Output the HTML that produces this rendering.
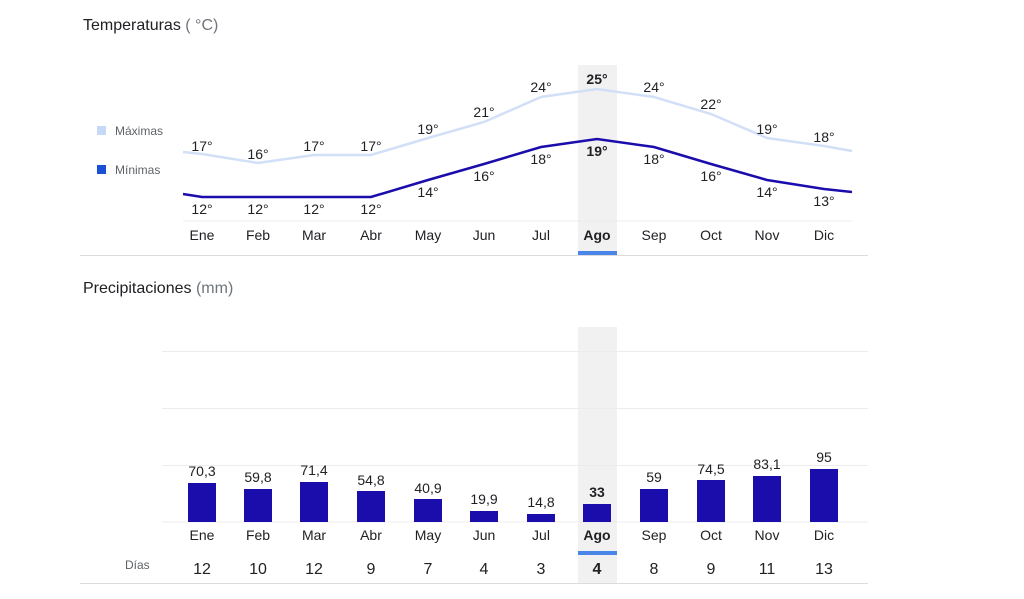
<!DOCTYPE html>
<html><head><meta charset="utf-8"><style>
body{margin:0;background:#fff;}
svg{display:block;font-family:"Liberation Sans",Arial,sans-serif;}
</style></head><body>
<svg width="1024" height="599" viewBox="0 0 1024 599">
<!-- highlight bands -->
<rect x="578" y="65" width="39" height="190" fill="#f1f1f1"/>
<rect x="578" y="327" width="39" height="257" fill="#f1f1f1"/>
<rect x="578" y="251" width="39" height="4" fill="#4a86e8"/>
<rect x="578" y="551" width="39" height="4" fill="#4a86e8"/>

<text x="83" y="30" font-size="16" fill="#202124">Temperaturas <tspan fill="#70757a">( °C)</tspan></text>
<rect x="97" y="126" width="9" height="9" fill="#c6d9f7"/>
<text x="115" y="135" font-size="12" fill="#5f6368">Máximas</text>
<rect x="97" y="165" width="9" height="9" fill="#1a4fd6"/>
<text x="115" y="174" font-size="12" fill="#5f6368">Mínimas</text>

<line x1="183" y1="221" x2="852" y2="221" stroke="#ececec"/>
<line x1="80" y1="255.5" x2="868" y2="255.5" stroke="#dadce0"/>

<polyline fill="none" stroke="#d2e0f7" stroke-width="2.5" points="183,152 202,154 258,163 314,155 371,155 428,138 484,122 541,97 597,89 654,97 711,114 767,138 824,146 852,151"/>
<polyline fill="none" stroke="#1a0dab" stroke-width="2.5" points="183,194 202,197 258,197 314,197 371,197 428,180 484,164 541,147 597,139 654,147 711,164 767,180 824,189 852,192"/>

<g font-size="14" fill="#202124" text-anchor="middle">
<text x="202" y="151">17°</text><text x="258" y="159">16°</text><text x="314" y="151">17°</text><text x="371" y="151">17°</text><text x="428" y="134">19°</text><text x="484" y="117">21°</text><text x="541" y="92">24°</text><text x="597" y="84" font-weight="bold">25°</text><text x="654" y="92">24°</text><text x="711" y="109">22°</text><text x="767" y="134">19°</text><text x="824" y="142">18°</text>
<text x="202" y="214">12°</text><text x="258" y="214">12°</text><text x="314" y="214">12°</text><text x="371" y="214">12°</text><text x="428" y="197">14°</text><text x="484" y="181">16°</text><text x="541" y="164">18°</text><text x="597" y="156" font-weight="bold">19°</text><text x="654" y="164">18°</text><text x="711" y="181">16°</text><text x="767" y="197">14°</text><text x="824" y="206">13°</text>
</g>
<g font-size="14" fill="#202124" text-anchor="middle">
<text x="202" y="240">Ene</text><text x="258" y="240">Feb</text><text x="314" y="240">Mar</text><text x="371" y="240">Abr</text><text x="428" y="240">May</text><text x="484" y="240">Jun</text><text x="541" y="240">Jul</text><text x="597" y="240" font-weight="bold">Ago</text><text x="654" y="240">Sep</text><text x="711" y="240">Oct</text><text x="767" y="240">Nov</text><text x="824" y="240">Dic</text>
</g>

<text x="83" y="293" font-size="16" fill="#202124">Precipitaciones <tspan fill="#70757a">(mm)</tspan></text>
<g stroke="#ececec">
<line x1="162" y1="351.5" x2="868" y2="351.5"/><line x1="162" y1="408.5" x2="868" y2="408.5"/><line x1="162" y1="465.5" x2="868" y2="465.5"/><line x1="162" y1="522" x2="868" y2="522"/>
</g>
<g fill="#1a0dab">
<rect x="188" y="483" width="28" height="39"/><rect x="244" y="489" width="28" height="33"/><rect x="300" y="482" width="28" height="40"/><rect x="357" y="491" width="28" height="31"/><rect x="414" y="499" width="28" height="23"/><rect x="470" y="511" width="28" height="11"/><rect x="527" y="514" width="28" height="8"/><rect x="583" y="504" width="28" height="18"/><rect x="640" y="489" width="28" height="33"/><rect x="697" y="480" width="28" height="42"/><rect x="753" y="476" width="28" height="46"/><rect x="810" y="469" width="28" height="53"/>
</g>
<g font-size="14" fill="#202124" text-anchor="middle">
<text x="202" y="476">70,3</text><text x="258" y="482">59,8</text><text x="314" y="475">71,4</text><text x="371" y="485">54,8</text><text x="428" y="493">40,9</text><text x="484" y="504">19,9</text><text x="541" y="507">14,8</text><text x="597" y="497" font-weight="bold">33</text><text x="654" y="482">59</text><text x="711" y="474">74,5</text><text x="767" y="469">83,1</text><text x="824" y="462">95</text>
</g>
<g font-size="14" fill="#202124" text-anchor="middle">
<text x="202" y="540">Ene</text><text x="258" y="540">Feb</text><text x="314" y="540">Mar</text><text x="371" y="540">Abr</text><text x="428" y="540">May</text><text x="484" y="540">Jun</text><text x="541" y="540">Jul</text><text x="597" y="540" font-weight="bold">Ago</text><text x="654" y="540">Sep</text><text x="711" y="540">Oct</text><text x="767" y="540">Nov</text><text x="824" y="540">Dic</text>
</g>
<text x="125" y="569" font-size="12" fill="#5f6368">Días</text>
<g font-size="16" fill="#202124" text-anchor="middle">
<text x="202" y="574">12</text><text x="258" y="574">10</text><text x="314" y="574">12</text><text x="371" y="574">9</text><text x="428" y="574">7</text><text x="484" y="574">4</text><text x="541" y="574">3</text><text x="597" y="574" font-weight="bold">4</text><text x="654" y="574">8</text><text x="711" y="574">9</text><text x="767" y="574">11</text><text x="824" y="574">13</text>
</g>
<line x1="80" y1="583.5" x2="868" y2="583.5" stroke="#dadce0"/>
</svg>
</body></html>
